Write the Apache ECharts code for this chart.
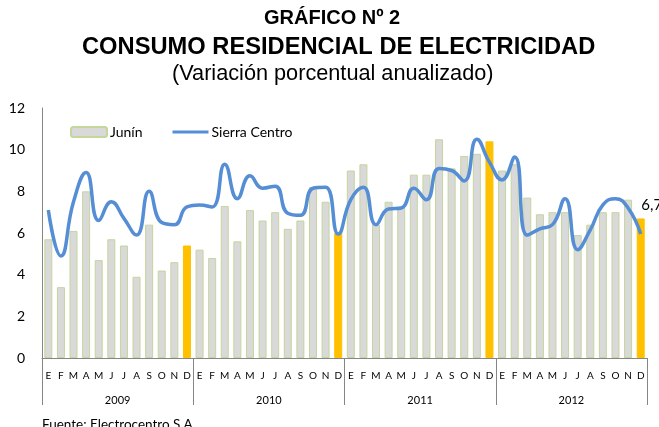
<!DOCTYPE html>
<html>
<head>
<meta charset="utf-8">
<script src="https://cdn.jsdelivr.net/npm/echarts@6/dist/echarts.min.js"></script>
<style>
html,body{margin:0;padding:0;background:#fff;}
#chart{width:659px;height:427px;}
</style>
</head>
<body>
<div id="chart"></div>
<script>
var months = ['E','F','M','A','M','J','J','A','S','O','N','D'];
var years = ['2009','2010','2011','2012'];
var junin = [
  5.7, 3.4, 6.1, 8.0, 4.7, 5.7, 5.4, 3.9, 6.4, 4.2, 4.6, 5.4,
  5.2, 4.8, 7.3, 5.6, 7.1, 6.6, 7.0, 6.2, 6.6, 8.2, 7.5, 6.0,
  9.0, 9.3, 6.4, 7.5, 7.2, 8.8, 8.8, 10.5, 9.1, 9.7, 9.8, 10.4,
  9.0, 9.3, 7.7, 6.9, 7.0, 7.0, 5.9, 6.4, 7.0, 7.0, 7.6, 6.7
];
var sierraCentro = [
  7.1, 4.9, 7.5, 8.9, 6.6, 7.5, 6.7, 5.9, 8.0, 6.5, 6.4, 7.25,
  7.35, 7.25, 9.3, 7.65, 8.75, 8.15, 8.25, 6.95, 6.85, 8.15, 8.2, 5.95,
  7.6, 8.2, 6.4, 7.15, 7.2, 8.15, 7.6, 9.1, 9.0, 8.5, 10.5, 9.4,
  8.55, 9.65, 5.9, 6.2, 6.4, 7.65, 5.2, 6.15, 7.35, 7.65, 7.2, 5.95
];
var sourceText = 'Fuente: Electrocentro S.A.';

var cats = [];
years.forEach(function (y) { months.forEach(function (m) { cats.push(m); }); });

var barData = junin.map(function (v, i) {
  var isDec = (i % 12) === 11;
  var item = { value: v };
  if (isDec) item.itemStyle = { color: '#FFC000', borderColor: '#FFC000' };
  if (i === junin.length - 1) {
    item.label = {
      show: true, position: 'top', distance: 6, offset: [11, 0],
      formatter: function (p) { return String(p.value).replace('.', ','); },
      fontFamily: 'Lato', fontSize: 15, color: '#000'
    };
  }
  return item;
});

var chart = echarts.init(document.getElementById('chart'), null, { renderer: 'canvas' });
chart.setOption({
  animation: false,
  backgroundColor: '#fff',
  title: [
    { text: 'GRÁFICO Nº 2', left: 264, top: 8, padding: 0,
      textStyle: { fontFamily: 'Liberation Sans', fontWeight: 'bold', fontSize: 20, color: '#000' } },
    { text: 'CONSUMO RESIDENCIAL DE ELECTRICIDAD', left: 82, top: 35, padding: 0,
      textStyle: { fontFamily: 'Liberation Sans', fontWeight: 'bold', fontSize: 23.7, color: '#000' } },
    { text: '(Variación porcentual anualizado)', left: 172, top: 63, padding: 0,
      textStyle: { fontFamily: 'Liberation Sans', fontWeight: 'normal', fontSize: 21.7, color: '#000' } },
    { text: sourceText, left: 42, top: 418, padding: 0,
      textStyle: { fontFamily: 'Lato', fontWeight: 'normal', fontSize: 13.5, color: '#000' } }
  ],
  legend: {
    left: 65, top: 120, itemWidth: 36, itemHeight: 10, itemGap: 30,
    textStyle: { fontFamily: 'Lato', fontSize: 14, color: '#000', padding: [0, 0, 0, -2] },
    data: [
      { name: 'Junín' },
      { name: 'Sierra Centro', icon: 'path://M0,0 L36,0 L36,3 L0,3 Z' }
    ]
  },
  grid: { left: 42, right: 12, top: 108, bottom: 69, containLabel: false },
  xAxis: [
    { type: 'category', data: cats, position: 'bottom',
      axisLine: { show: true, lineStyle: { color: '#868686', width: 1 } },
      axisTick: { show: false },
      axisLabel: { interval: 0, fontFamily: 'Lato', fontSize: 10, color: '#000', margin: 13 },
      splitLine: { show: false } },
    { type: 'category', data: years, position: 'bottom',
      axisLine: { show: false },
      axisTick: { show: true, length: 47, lineStyle: { color: '#868686', width: 1 } },
      axisLabel: { fontFamily: 'Lato', fontSize: 11, color: '#000', margin: 37 },
      splitLine: { show: false } }
  ],
  yAxis: {
    type: 'value', min: 0, max: 12, interval: 2,
    axisLine: { show: true, lineStyle: { color: '#868686', width: 1 } },
    axisTick: { show: false },
    axisLabel: { fontFamily: 'Lato', fontSize: 14, color: '#000', margin: 17 },
    splitLine: { show: false }
  },
  series: [
    { name: 'Junín', type: 'bar', xAxisIndex: 0, data: barData, barWidth: 8,
      itemStyle: { color: '#D9D9D9', borderColor: '#C3D69B', borderWidth: 1 } },
    { name: 'Sierra Centro', type: 'line', xAxisIndex: 0, data: sierraCentro,
      smooth: 0.5, symbol: 'none', z: 3,
      lineStyle: { color: '#558ED5', width: 3.5 }, itemStyle: { color: '#558ED5' } }
  ]
});
</script>
</body>
</html>
